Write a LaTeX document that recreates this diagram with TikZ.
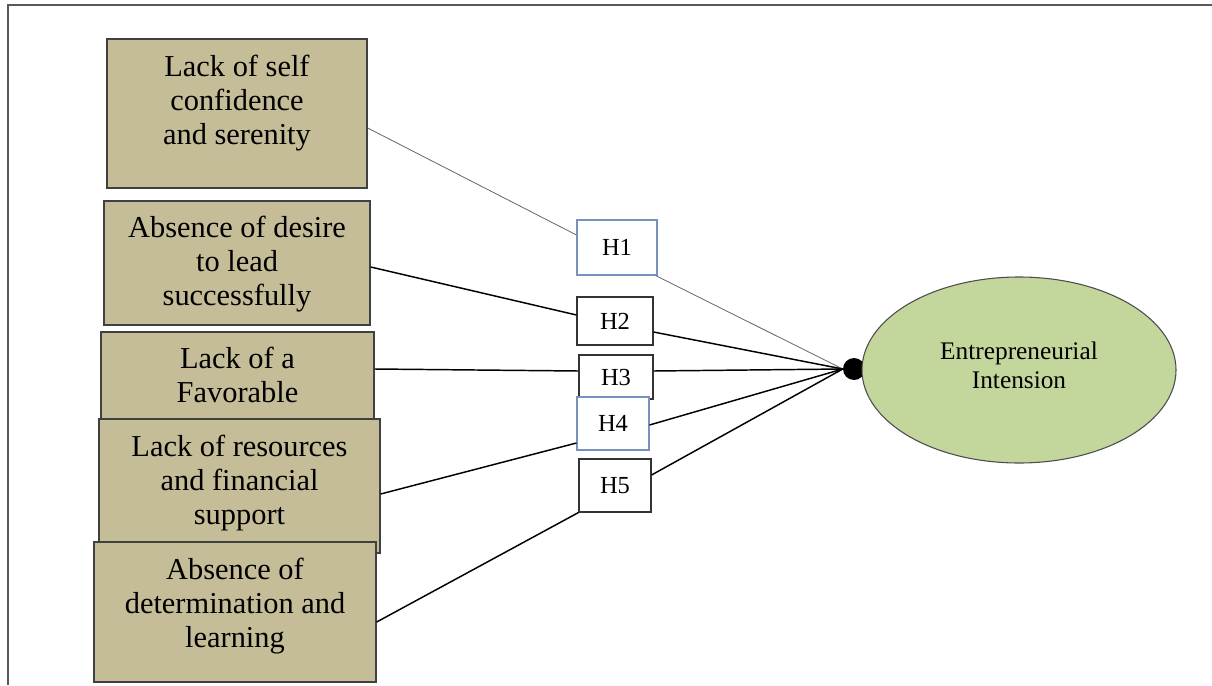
\documentclass[tikz,border=0pt]{standalone}
\usepackage{fontspec}
\setmainfont{Liberation Serif}
\usetikzlibrary{shapes.geometric, calc}
\definecolor{khaki}{RGB}{196,189,151}
\definecolor{olivegreen}{RGB}{195,214,155}
\definecolor{hblue}{RGB}{120,146,190}
\newcommand{\px}{0.75pt}

\begin{document}
\begin{tikzpicture}[x=0.75pt, y=-0.75pt]
  % Styles
  \tikzstyle{factor} = [rectangle, draw=black!75, line width=1pt, fill=khaki, inner sep=0pt]
  \tikzstyle{factortext} = [align=center, inner sep=0pt, font=\fontsize{22.8}{25.5}\selectfont]
  \tikzstyle{hypo} = [rectangle, draw=black!80, line width=0.8pt, fill=white, inner sep=0pt, font=\fontsize{18.4}{20}\selectfont]
  \tikzstyle{line} = [draw, line width=1.1pt]

  \useasboundingbox (0,0) rectangle (1212,685);

  % Frame
  \draw[black!65, line width=1pt] (8,685) -- (8,5) -- (1212,5);

  % Factors
  \node[factor, minimum width=260*\px, minimum height=149*\px] (lack1) at (237,113.5) {};
  \node[factortext] (t1) at ($(lack1.center)+(0,-10.5)$) {Lack of self\\confidence\\and serenity};
  \node[factor, minimum width=266*\px, minimum height=124*\px] (lack2) at (237,263) {};
  \node[factortext] (t2) at ($(lack2.center)+(0,1)$) {Absence of desire\\to lead\\successfully};
  \node[factor, minimum width=273*\px, minimum height=108*\px] (lack3) at (237.5,386) {};
  \node[factortext] (t3) at ($(lack3.center)+(0,-11)$) {Lack of a\\Favorable};
  \node[factor, minimum width=281*\px, minimum height=134*\px] (lack4) at (239.5,486) {};
  \node[factortext] (t4) at ($(lack4.center)+(0,-3)$) {Lack of resources\\and financial\\support};
  \node[factor, minimum width=282*\px, minimum height=140*\px] (lack5) at (235,612) {};
  \node[factortext] (t5) at ($(lack5.center)+(0,-6)$) {Absence of\\determination and\\learning};

  % Hypotheses
  \node[hypo, draw=hblue, minimum width=80*\px, minimum height=55*\px] (h1) at (617,247.5) {H1};
  \node[hypo, minimum width=76*\px, minimum height=48*\px] (h2) at (615,321) {H2};
  \node[hypo, minimum width=74*\px, minimum height=44*\px] (h3) at (616,377) {H3};
  \node[hypo, draw=hblue, minimum width=72*\px, minimum height=53*\px] (h4) at (613,423.5) {H4};
  \node[hypo, minimum width=72*\px, minimum height=53*\px] (h5) at (615,485.5) {H5};

  % Outcome
  \node[circle, fill=black, minimum size=22*\px, inner sep=0pt] (dot) at (854,369) {};
  \node[ellipse, draw=black!70, line width=0.8pt, fill=olivegreen, minimum width=314*\px, minimum height=186*\px, inner sep=0pt] (intent) at (1019,370) {};
  \node[align=center, inner sep=0pt, font=\fontsize{19}{21.75}\selectfont] (intenttext) at ($(intent.center)+(0,-5)$) {Entrepreneurial\\Intension};

  % Links
  \draw[line, black!60, line width=0.6pt] ($(lack1.east)+(0,14.5)$) -- ($(h1.west)+(0,-12.5)$);
  \draw[line, black!60, line width=0.6pt] ($(h1.south east)+(-2,0)$) -- (dot.west);
  \draw[line] ($(lack2.east)+(0,4)$) -- ($(h2.west)+(0,-6)$);
  \draw[line] ($(h2.east)+(0,11)$) -- (dot.west);
  \draw[line] ($(lack3.east)+(0,-17)$) -- ($(h3.west)+(0,-6)$);
  \draw[line] ($(h3.east)+(0,-6)$) -- (dot.west);
  \draw[line] ($(lack4.east)+(0,8)$) -- ($(h4.west)+(0,19.5)$);
  \draw[line] ($(h4.east)+(0,1.5)$) -- (dot.west);
  \draw[line] ($(lack5.east)+(0,10)$) -- (h5.south west);
  \draw[line] ($(h5.east)+(0,-10.5)$) -- (dot.west);
\end{tikzpicture}
\end{document}
